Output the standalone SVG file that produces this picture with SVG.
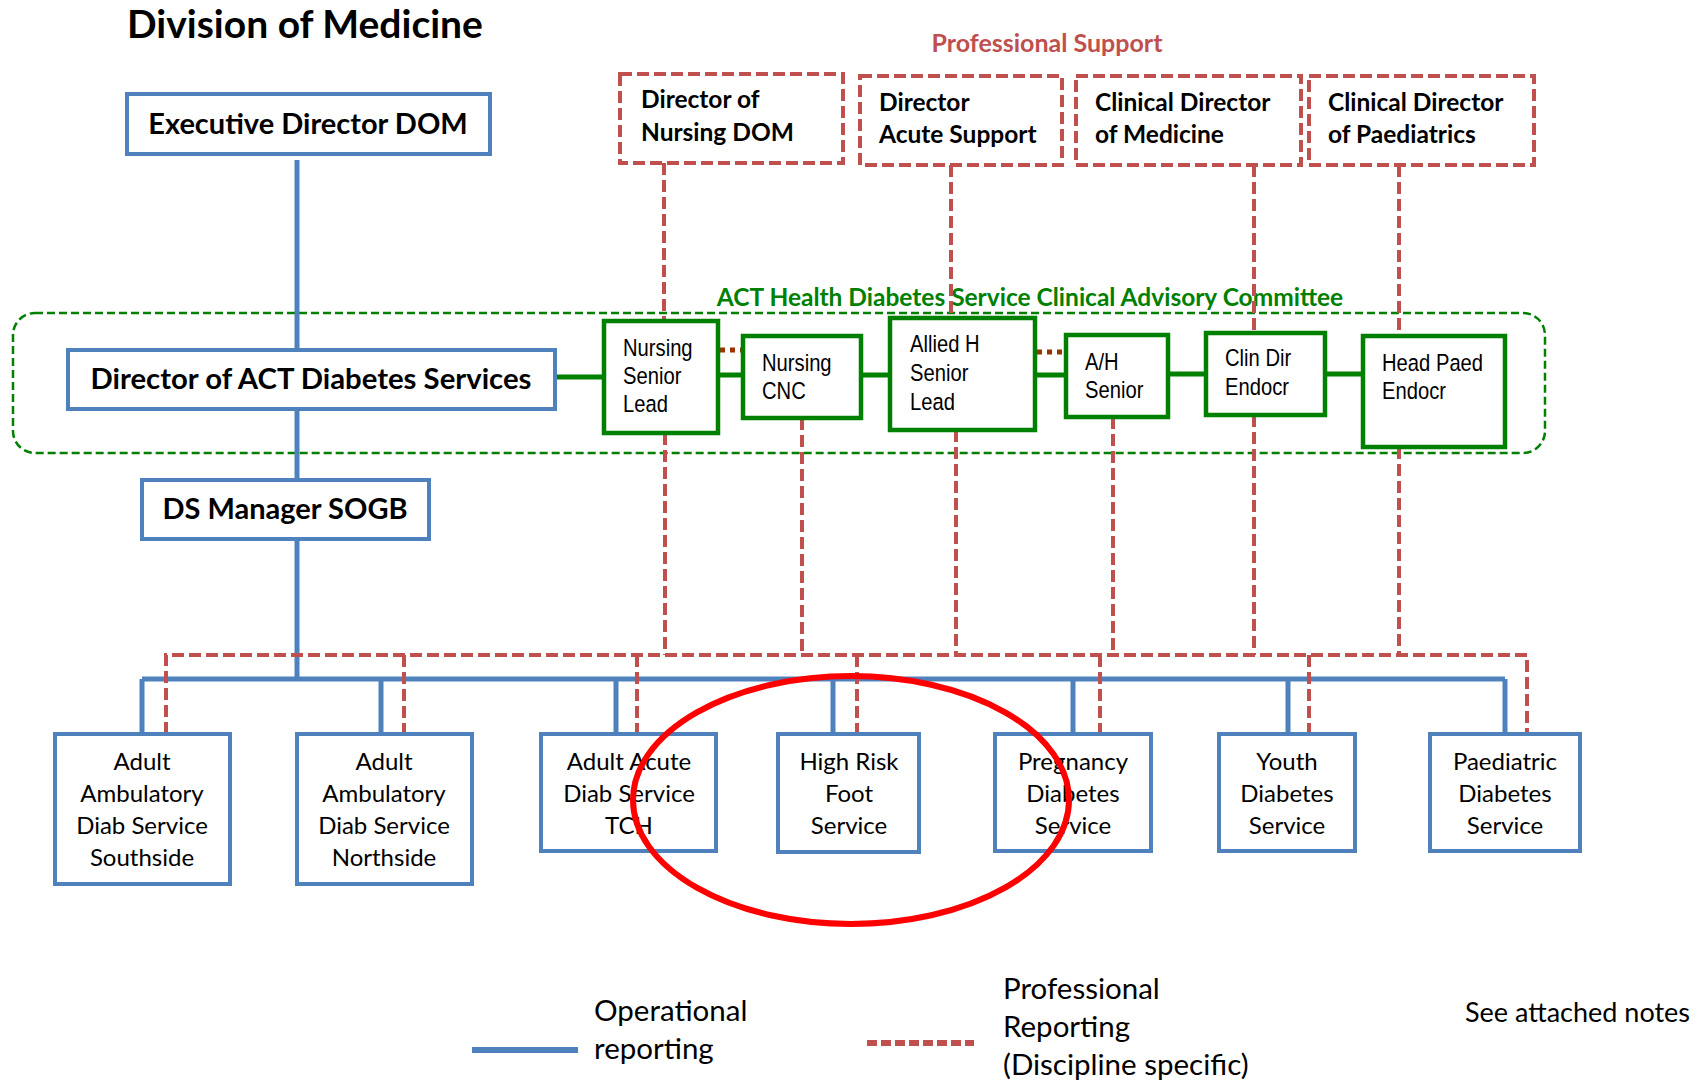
<svg xmlns="http://www.w3.org/2000/svg" width="1700" height="1082" viewBox="0 0 1700 1082">
<style>
.bg{fill:#fff}
.bbox{fill:#fff;stroke:#4F81BD;stroke-width:4}
.gbox{fill:#fff;stroke:#008000;stroke-width:4.5}
.rbox{fill:none;stroke:#C0504D;stroke-width:4;stroke-dasharray:12 5}
.op{fill:none;stroke:#4F81BD;stroke-width:5}
.pr{fill:none;stroke:#C0504D;stroke-width:4;stroke-dasharray:12 5}
.gl{fill:none;stroke:#008000;stroke-width:5}
.dot{fill:none;stroke:#993300;stroke-width:5;stroke-dasharray:5 5}
.tb{font-family:Lato,"Liberation Sans",sans-serif;font-weight:bold;fill:#000}
.tr{font-family:Lato,"Liberation Sans",sans-serif;fill:#000}
.tn{font-family:"Liberation Sans",Arial,sans-serif;font-size:23.5px;fill:#000}
.c{text-anchor:middle}
</style>
<rect class="bg" x="0" y="0" width="1700" height="1082"/>
<text class="tb" x="127" y="38" font-size="39">Division of Medicine</text>
<text class="tb" x="1047" y="52" font-size="25" style="fill:#C0504D" text-anchor="middle">Professional Support</text>

<g id="committee">
<rect x="13" y="313" width="1532" height="140" rx="22" ry="22" fill="none" stroke="#008000" stroke-width="2.5" stroke-dasharray="8 4"/>
<text class="tb" x="1030" y="306" font-size="24.5" style="fill:#008000" text-anchor="middle">ACT Health Diabetes Service Clinical Advisory Committee</text>
</g>

<g id="connectors">
<path class="op" d="M297 160 V350 M297 409 V480 M297 539 V679 M142 679 H1505 M142 679 V734 M381 679 V734 M616 679 V734 M833 679 V734 M1073 679 V734 M1288 679 V734 M1505 679 V734"/>
<path class="gl" d="M555 377 H604 M718 375 H743 M861 375 H890 M1035 375 H1066 M1168 374 H1206 M1325 374 H1363"/>
<path class="dot" d="M720 350 H743 M1037 352 H1066"/>
<path class="pr" d="M664 163 V321 M951 165 V318 M1254 165 V333 M1399 165 V336"/>
<path class="pr" d="M665 433 V655 M802 418 V655 M956 430 V655 M1113 417 V655 M1254 415 V655 M1399 447 V655"/>
<path class="pr" d="M166 734 V655 H1527 V734 M404 655 V734 M637 655 V734 M857 655 V734 M1100 655 V734 M1309 655 V734"/>
</g>

<g id="exec">
<rect class="bbox" x="127" y="94" width="363" height="60"/>
<text class="tb c" x="308" y="134" font-size="29">Executive Director DOM</text>
</g>
<g id="director">
<rect class="bbox" x="68" y="350" width="487" height="59"/>
<text class="tb c" x="311" y="389" font-size="29.3">Director of ACT Diabetes Services</text>
</g>
<g id="dsmanager">
<rect class="bbox" x="142" y="480" width="287" height="59"/>
<text class="tb c" x="285" y="519" font-size="29">DS Manager SOGB</text>
</g>

<g id="dir-nursing">
<rect class="rbox" x="620" y="74" width="223" height="89"/>
<text class="tb" x="641" y="108" font-size="24.5">Director of</text>
<text class="tb" x="641" y="141" font-size="24.5">Nursing DOM</text>
</g>
<g id="dir-acute">
<rect class="rbox" x="860" y="76" width="202" height="89"/>
<text class="tb" x="879" y="111" font-size="24.5">Director</text>
<text class="tb" x="879" y="143" font-size="24.5">Acute Support</text>
</g>
<g id="clin-med">
<rect class="rbox" x="1076" y="76" width="225" height="89"/>
<text class="tb" x="1095" y="111" font-size="24.5">Clinical Director</text>
<text class="tb" x="1095" y="143" font-size="24.5">of Medicine</text>
</g>
<g id="clin-paed">
<rect class="rbox" x="1309" y="76" width="225" height="89"/>
<text class="tb" x="1328" y="111" font-size="24.5">Clinical Director</text>
<text class="tb" x="1328" y="143" font-size="24.5">of Paediatrics</text>
</g>

<g id="nsl">
<rect class="gbox" x="604" y="321" width="114" height="112"/>
<text class="tn" transform="matrix(0.86 0 0 1 623 0)"><tspan x="0" y="356">Nursing</tspan><tspan x="0" y="384">Senior</tspan><tspan x="0" y="412">Lead</tspan></text>
</g>
<g id="cnc">
<rect class="gbox" x="743" y="336" width="118" height="82"/>
<text class="tn" transform="matrix(0.86 0 0 1 762 0)"><tspan x="0" y="371">Nursing</tspan><tspan x="0" y="399">CNC</tspan></text>
</g>
<g id="ahsl">
<rect class="gbox" x="890" y="318" width="145" height="112"/>
<text class="tn" transform="matrix(0.86 0 0 1 910 0)"><tspan x="0" y="352">Allied H</tspan><tspan x="0" y="381">Senior</tspan><tspan x="0" y="410">Lead</tspan></text>
</g>
<g id="ahs">
<rect class="gbox" x="1066" y="335" width="102" height="82"/>
<text class="tn" transform="matrix(0.86 0 0 1 1085 0)"><tspan x="0" y="370">A/H</tspan><tspan x="0" y="398">Senior</tspan></text>
</g>
<g id="clindir">
<rect class="gbox" x="1206" y="333" width="119" height="82"/>
<text class="tn" transform="matrix(0.86 0 0 1 1225 0)"><tspan x="0" y="366">Clin Dir</tspan><tspan x="0" y="395">Endocr</tspan></text>
</g>
<g id="headpaed">
<rect class="gbox" x="1363" y="336" width="142" height="111"/>
<text class="tn" transform="matrix(0.86 0 0 1 1382 0)"><tspan x="0" y="371">Head Paed</tspan><tspan x="0" y="399">Endocr</tspan></text>
</g>

<g id="southside">
<rect class="bbox" x="55" y="734" width="175" height="150"/>
<text class="tr c" font-size="24"><tspan x="142" y="770">Adult</tspan><tspan x="142" y="802">Ambulatory</tspan><tspan x="142" y="834">Diab Service</tspan><tspan x="142" y="866">Southside</tspan></text>
</g>
<g id="northside">
<rect class="bbox" x="297" y="734" width="175" height="150"/>
<text class="tr c" font-size="24"><tspan x="384" y="770">Adult</tspan><tspan x="384" y="802">Ambulatory</tspan><tspan x="384" y="834">Diab Service</tspan><tspan x="384" y="866">Northside</tspan></text>
</g>
<g id="acute">
<rect class="bbox" x="541" y="734" width="175" height="117"/>
<text class="tr c" font-size="24"><tspan x="629" y="770">Adult Acute</tspan><tspan x="629" y="802">Diab Service</tspan><tspan x="629" y="834">TCH</tspan></text>
</g>
<g id="highrisk">
<rect class="bbox" x="778" y="734" width="141" height="118"/>
<text class="tr c" font-size="24"><tspan x="849" y="770">High Risk</tspan><tspan x="849" y="802">Foot</tspan><tspan x="849" y="834">Service</tspan></text>
</g>
<g id="pregnancy">
<rect class="bbox" x="995" y="734" width="156" height="117"/>
<text class="tr c" font-size="24"><tspan x="1073" y="770">Pregnancy</tspan><tspan x="1073" y="802">Diabetes</tspan><tspan x="1073" y="834">Service</tspan></text>
</g>
<g id="youth">
<rect class="bbox" x="1219" y="734" width="136" height="117"/>
<text class="tr c" font-size="24"><tspan x="1287" y="770">Youth</tspan><tspan x="1287" y="802">Diabetes</tspan><tspan x="1287" y="834">Service</tspan></text>
</g>
<g id="paediatric">
<rect class="bbox" x="1430" y="734" width="150" height="117"/>
<text class="tr c" font-size="24"><tspan x="1505" y="770">Paediatric</tspan><tspan x="1505" y="802">Diabetes</tspan><tspan x="1505" y="834">Service</tspan></text>
</g>

<ellipse cx="851" cy="800" rx="218" ry="124" fill="none" stroke="#FF0000" stroke-width="6"/>

<g id="legend">
<line x1="472" y1="1050" x2="578" y2="1050" stroke="#4F81BD" stroke-width="6"/>
<text class="tr" font-size="29.5"><tspan x="594" y="1021">Operational</tspan><tspan x="594" y="1059">reporting</tspan></text>
<line x1="867" y1="1043" x2="974" y2="1043" stroke="#C0504D" stroke-width="6" stroke-dasharray="10 4"/>
<text class="tr" font-size="29.5"><tspan x="1003" y="999">Professional</tspan><tspan x="1003" y="1037">Reporting</tspan><tspan x="1003" y="1075">(Discipline specific)</tspan></text>
<text class="tr" x="1465" y="1022" font-size="27">See attached notes</text>
</g>
</svg>
